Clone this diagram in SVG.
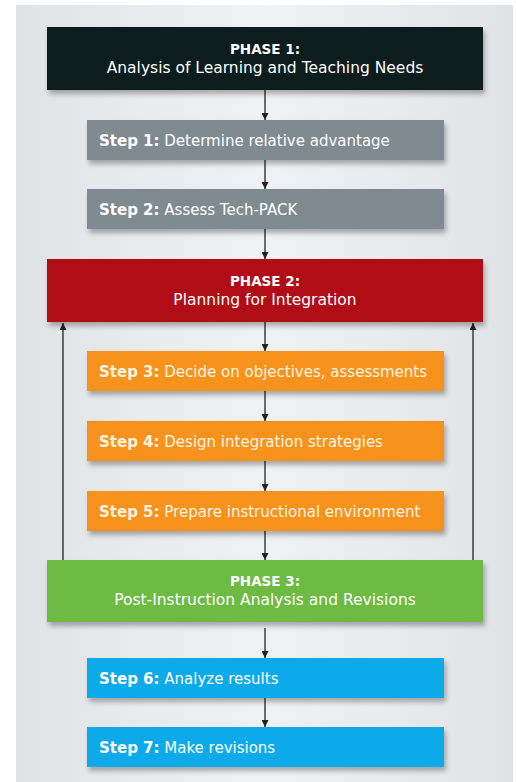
<svg xmlns="http://www.w3.org/2000/svg" width="516" height="782" viewBox="0 0 516 782">
<style>
.t{font-family:"DejaVu Sans","Liberation Sans",sans-serif;fill:#ffffff;}
.ph{font-size:13.5px;font-weight:bold;text-anchor:middle;}
.pt{font-size:15.5px;text-anchor:middle;}
.st{font-size:15px;}
.o{fill:#fff3e3;}
.b{font-weight:bold;}
.box{filter:url(#sh);}
.conn line{stroke:#222;stroke-width:1.3;}
</style>
<defs>
<linearGradient id="bg" x1="0" y1="0" x2="1" y2="0">
<stop offset="0" stop-color="#e0e3e6"/>
<stop offset="0.5" stop-color="#f0f1f2"/>
<stop offset="1" stop-color="#e0e3e6"/>
</linearGradient>
<filter id="sh" x="-10%" y="-20%" width="125%" height="160%">
<feGaussianBlur in="SourceAlpha" stdDeviation="2.5"/>
<feOffset dx="2" dy="4" result="o"/>
<feComponentTransfer><feFuncA type="linear" slope="0.3"/></feComponentTransfer>
<feMerge><feMergeNode/><feMergeNode in="SourceGraphic"/></feMerge>
</filter>
<marker id="ah" viewBox="0 0 8 8" refX="8" refY="4" markerWidth="7" markerHeight="7" markerUnits="userSpaceOnUse" orient="auto">
<path d="M0,0 L8,4 L0,8 z" fill="#222"/>
</marker>
</defs>
<rect x="0" y="0" width="516" height="782" fill="#ffffff"/>
<rect x="16" y="5" width="497" height="777" fill="url(#bg)"/>

<g class="conn">
<line x1="265" y1="90" x2="265" y2="120" marker-end="url(#ah)"/>
<line x1="265" y1="160" x2="265" y2="189" marker-end="url(#ah)"/>
<line x1="265" y1="229" x2="265" y2="259" marker-end="url(#ah)"/>
<line x1="265" y1="322" x2="265" y2="351" marker-end="url(#ah)"/>
<line x1="265" y1="391" x2="265" y2="421" marker-end="url(#ah)"/>
<line x1="265" y1="461" x2="265" y2="491" marker-end="url(#ah)"/>
<line x1="265" y1="531" x2="265" y2="560" marker-end="url(#ah)"/>
<line x1="265" y1="628" x2="265" y2="658" marker-end="url(#ah)"/>
<line x1="265" y1="698" x2="265" y2="727" marker-end="url(#ah)"/>
<line x1="63" y1="560" x2="63" y2="323" marker-end="url(#ah)"/>
<line x1="473" y1="560" x2="473" y2="323" marker-end="url(#ah)"/>
</g>

<g id="phase1">
<rect class="box" x="47" y="27" width="436" height="63" fill="#111a1f"/>
<text class="t ph" x="265" y="54">PHASE 1:</text>
<text class="t pt" x="265" y="73">Analysis of Learning and Teaching Needs</text>
</g>
<g id="step1">
<rect class="box" x="87" y="120" width="357" height="40" fill="#7f8a91"/>
<text class="t st" x="99" y="146"><tspan class="b">Step 1:</tspan> Determine relative advantage</text>
</g>
<g id="step2">
<rect class="box" x="87" y="189" width="357" height="40" fill="#7f8a91"/>
<text class="t st" x="99" y="215"><tspan class="b">Step 2:</tspan> Assess Tech-PACK</text>
</g>
<g id="phase2">
<rect class="box" x="47" y="259" width="436" height="63" fill="#b10d15"/>
<text class="t ph" x="265" y="286">PHASE 2:</text>
<text class="t pt" x="265" y="305">Planning for Integration</text>
</g>
<g id="step3">
<rect class="box" x="87" y="351" width="357" height="40" fill="#f7931e"/>
<text class="t st o" x="99" y="377"><tspan class="b">Step 3:</tspan> Decide on objectives, assessments</text>
</g>
<g id="step4">
<rect class="box" x="87" y="421" width="357" height="40" fill="#f7931e"/>
<text class="t st o" x="99" y="447"><tspan class="b">Step 4:</tspan> Design integration strategies</text>
</g>
<g id="step5">
<rect class="box" x="87" y="491" width="357" height="40" fill="#f7931e"/>
<text class="t st o" x="99" y="517"><tspan class="b">Step 5:</tspan> Prepare instructional environment</text>
</g>
<g id="phase3">
<rect class="box" x="47" y="560" width="436" height="62" fill="#6dbb43"/>
<text class="t ph" x="265" y="586">PHASE 3:</text>
<text class="t pt" x="265" y="605">Post-Instruction Analysis and Revisions</text>
</g>
<g id="step6">
<rect class="box" x="87" y="658" width="357" height="40" fill="#0faaea"/>
<text class="t st" x="99" y="684"><tspan class="b">Step 6:</tspan> Analyze results</text>
</g>
<g id="step7">
<rect class="box" x="87" y="727" width="357" height="40" fill="#0faaea"/>
<text class="t st" x="99" y="753"><tspan class="b">Step 7:</tspan> Make revisions</text>
</g>
</svg>
